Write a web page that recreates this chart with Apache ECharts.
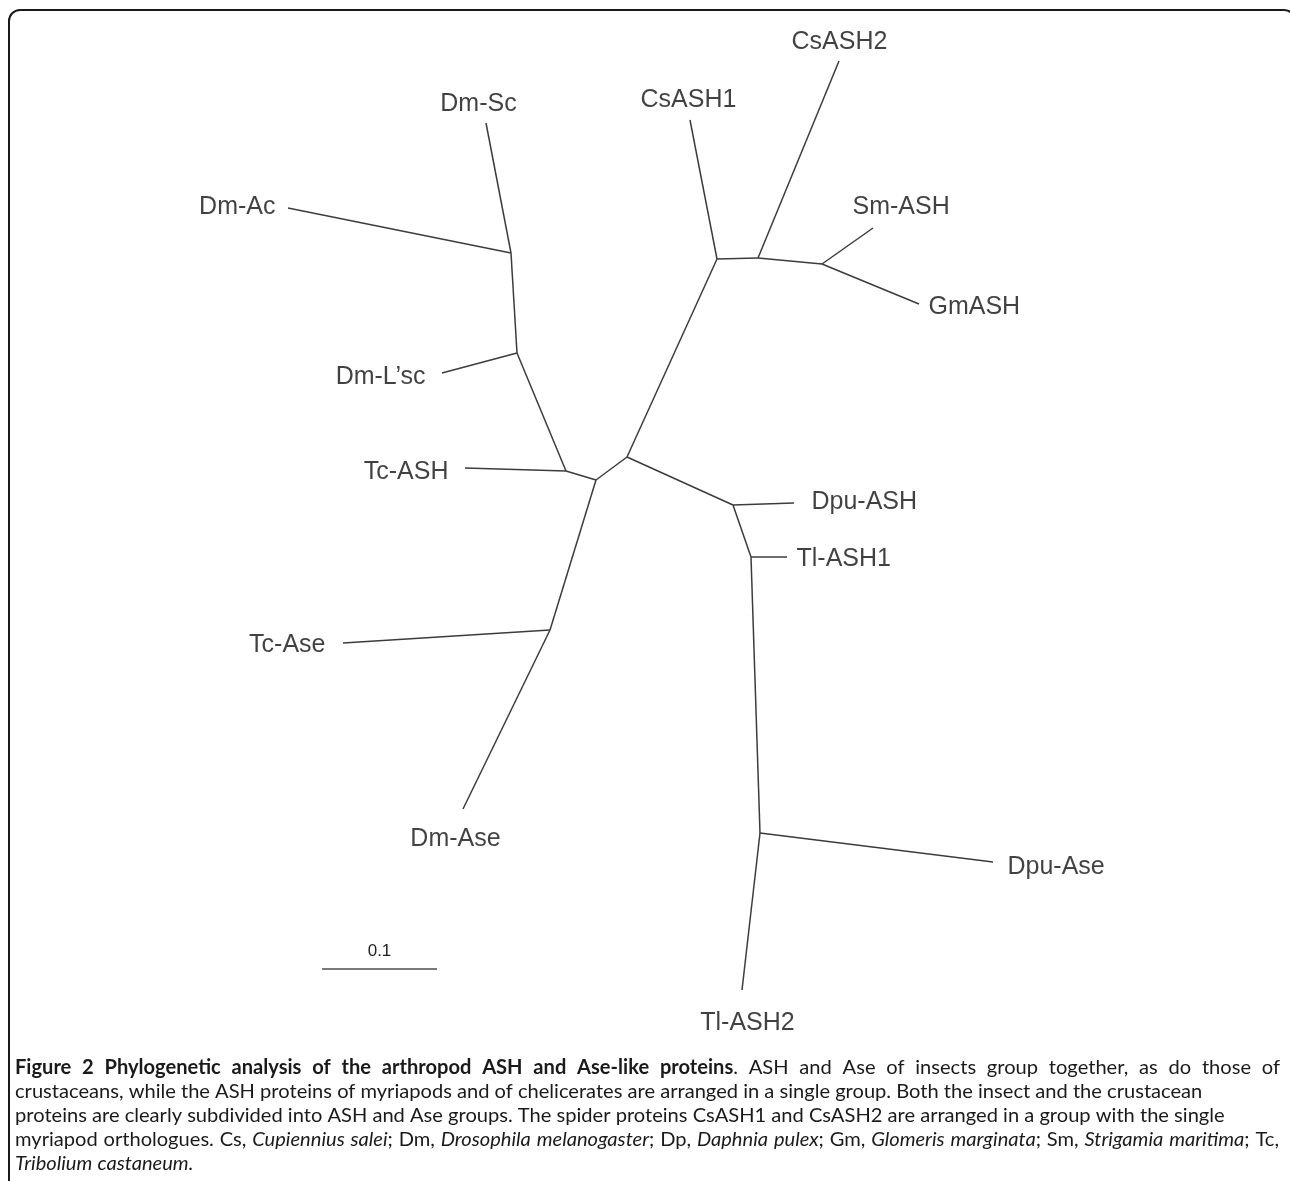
<!DOCTYPE html>
<html><head><meta charset="utf-8">
<script src="https://cdn.jsdelivr.net/npm/echarts@6/dist/echarts.min.js"></script>
<style>html,body{margin:0;padding:0;background:#fff}#c{width:1290px;height:1181px}</style>
</head><body><div id="c"></div>
<script>
// ---- tree data (layout coordinates of the unrooted tree) ----
const nodeNames = ['Dm-Sc','Dm-Ac','A','B','Dm-L\u2019sc','C','Tc-ASH','D','J','Tc-Ase','Dm-Ase','E','F','CsASH1','G','CsASH2','H','Sm-ASH','GmASH','I','Dpu-ASH','L','Tl-ASH1','K','Dpu-Ase','Tl-ASH2'];
const nodeX = [486,288,511,517,442,566,465,596,550,343,463,627,717,690,758,839,822,873,919,733,794,751,787,760,993,742];
const nodeY = [123,208,253,353,373,471,468,480,630,643,809,457,259,120,258,61,264,228,304,505,503,557,557,833,862,990];
const edgeFrom = ['A','A','A','B','B','C','C','D','J','J','D','E','F','F','G','G','H','H','E','I','I','L','L','K','K'];
const edgeTo   = ['Dm-Sc','Dm-Ac','B','Dm-L\u2019sc','C','Tc-ASH','D','J','Tc-Ase','Dm-Ase','E','F','CsASH1','G','CsASH2','H','Sm-ASH','GmASH','I','Dpu-ASH','L','Tl-ASH1','K','Dpu-Ase','Tl-ASH2'];
const leafNames = ['Dm-Sc','Dm-Ac','Dm-L\u2019sc','Tc-ASH','Tc-Ase','Dm-Ase','CsASH1','CsASH2','Sm-ASH','GmASH','Dpu-ASH','Tl-ASH1','Dpu-Ase','Tl-ASH2'];
const scaleBarLabel = '0.1';
const scaleBarLayoutLength = 115; // layout units equal to 0.1 substitutions/site
const captionLines = [
  '**Figure 2 Phylogenetic analysis of the arthropod ASH and Ase-like proteins**. ASH and Ase of insects group together, as do those of',
  'crustaceans, while the ASH proteins of myriapods and of chelicerates are arranged in a single group. Both the insect and the crustacean',
  'proteins are clearly subdivided into ASH and Ase groups. The spider proteins CsASH1 and CsASH2 are arranged in a group with the single',
  'myriapod orthologues. Cs, _Cupiennius salei_; Dm, _Drosophila melanogaster_; Dp, _Daphnia pulex_; Gm, _Glomeris marginata_; Sm, _Strigamia maritima_; Tc,',
  '_Tribolium castaneum._'
];

// ---- label placement (style, separate from data) ----
const labelLayout = {
  'Dm-Sc':['center',-7,-18], 'Dm-Ac':['right',-12,0], 'Dm-L\u2019sc':['right',-16,5],
  'Tc-ASH':['right',-16,5], 'Tc-Ase':['right',-17,3], 'Dm-Ase':['center',-7,31],
  'CsASH1':['center',-1,-19], 'CsASH2':['center',1,-18], 'Sm-ASH':['left',-20,-20],
  'GmASH':['left',10,4], 'Dpu-ASH':['left',18,0], 'Tl-ASH1':['left',10,3],
  'Dpu-Ase':['left',15,6], 'Tl-ASH2':['center',6,34]
};
const scaleBarStart = [322, 969];
const justifyRight = [1280, null, null, 1279, null];

const idx = n => nodeNames.indexOf(n);
const pt = n => [nodeX[idx(n)], nodeY[idx(n)]];
const edgeData = edgeFrom.map((f,i)=>({coords:[pt(f), pt(edgeTo[i])]}));
const leafData = leafNames.map(n=>{
  const L = labelLayout[n];
  return {name:n, value:pt(n), label:{show:true, position:[L[1],L[2]], align:L[0], verticalAlign:'middle'}};
});

// ---- caption layout ----
function parseLine(s){
  const words=[]; let cur=[]; let b=false,it=false; let buf='';
  const flush=()=>{ if(buf){cur.push({t:buf,b:b,i:it}); buf='';} };
  for(let k=0;k<s.length;k++){
    if(s.startsWith('**',k)){flush(); b=!b; k++; continue;}
    if(s[k]==='_'){flush(); it=!it; continue;}
    if(s[k]===' '){flush(); if(cur.length) words.push(cur); cur=[]; continue;}
    buf+=s[k];
  }
  flush(); if(cur.length) words.push(cur);
  return words;
}
const mctx = document.createElement('canvas').getContext('2d');
const FAM = 'Lato';
function fontOf(seg,size){ return (seg.i?'italic ':'normal ')+(seg.b?'bold ':'normal ')+size+'px '+FAM; }
function measure(seg,size){ mctx.font = fontOf(seg,size); return mctx.measureText(seg.t).width; }
function lineWidth(words,size){
  let w=0; const sp = measure({t:' ',b:false,i:false},size);
  words.forEach((wd,k)=>{ wd.forEach(s=>w+=measure(s,size)); if(k<words.length-1) w+=sp; });
  return w;
}
const parsed = captionLines.map(parseLine);
const baseSize = 18;
let capSize = baseSize * 1189 / lineWidth(parsed[1], baseSize);
capSize = Math.round(capSize*10)/10;
const captionX = 15, captionY0 = 1068, captionDY = 24;
const captionGraphics = [];
parsed.forEach((words,li)=>{
  let x = captionX; const y = captionY0 + li*captionDY;
  let sp = measure({t:' ',b:false,i:false},capSize);
  if (justifyRight[li]) {
    const nat = lineWidth(words, capSize);
    sp += (justifyRight[li] - captionX - nat) / (words.length - 1);
  }
  words.forEach(wd=>{
    wd.forEach(seg=>{
      captionGraphics.push({type:'text', x:x, y:y, silent:true, style:{
        text:seg.t, fontSize:capSize, fontFamily:FAM, fontWeight:seg.b?'bold':'normal',
        fontStyle:seg.i?'italic':'normal', fill:'#1a1a1a', align:'left', verticalAlign:'middle'}});
      x += measure(seg,capSize);
    });
    x += sp;
  });
});

const chart = echarts.init(document.getElementById('c'), null, {renderer:'canvas'});
chart.setOption({
  animation:false,
  backgroundColor:'#ffffff',
  grid:{left:0,right:0,top:0,bottom:0},
  xAxis:{type:'value', min:0, max:1290, show:false},
  yAxis:{type:'value', min:0, max:1181, inverse:true, show:false},
  graphic:[
    {type:'rect', silent:true, shape:{x:9,y:10,width:1286,height:1400,r:[11,11,0,0]},
     style:{fill:'none', stroke:'#1a1a1a', lineWidth:2}}
  ].concat(captionGraphics),
  series:[
    {type:'lines', coordinateSystem:'cartesian2d', silent:true, z:2,
     lineStyle:{color:'#3c3c3c', width:1.5, opacity:1, curveness:0}, data:edgeData},
    {type:'scatter', silent:true, z:3, symbolSize:1, itemStyle:{color:'rgba(0,0,0,0)'},
     label:{show:true, formatter:'{b}', fontFamily:'Liberation Sans, Arial, sans-serif', fontSize:25, color:'#111'},
     data:leafData},
    {type:'lines', coordinateSystem:'cartesian2d', silent:true, z:2,
     lineStyle:{color:'#7a7a7a', width:2, opacity:1},
     label:{show:true, position:'middle', distance:9, formatter:scaleBarLabel, fontFamily:'Liberation Sans, Arial, sans-serif', fontSize:17, color:'#222'},
     data:[{coords:[scaleBarStart,[scaleBarStart[0]+scaleBarLayoutLength, scaleBarStart[1]]]}]}
  ]
});
</script></body></html>
